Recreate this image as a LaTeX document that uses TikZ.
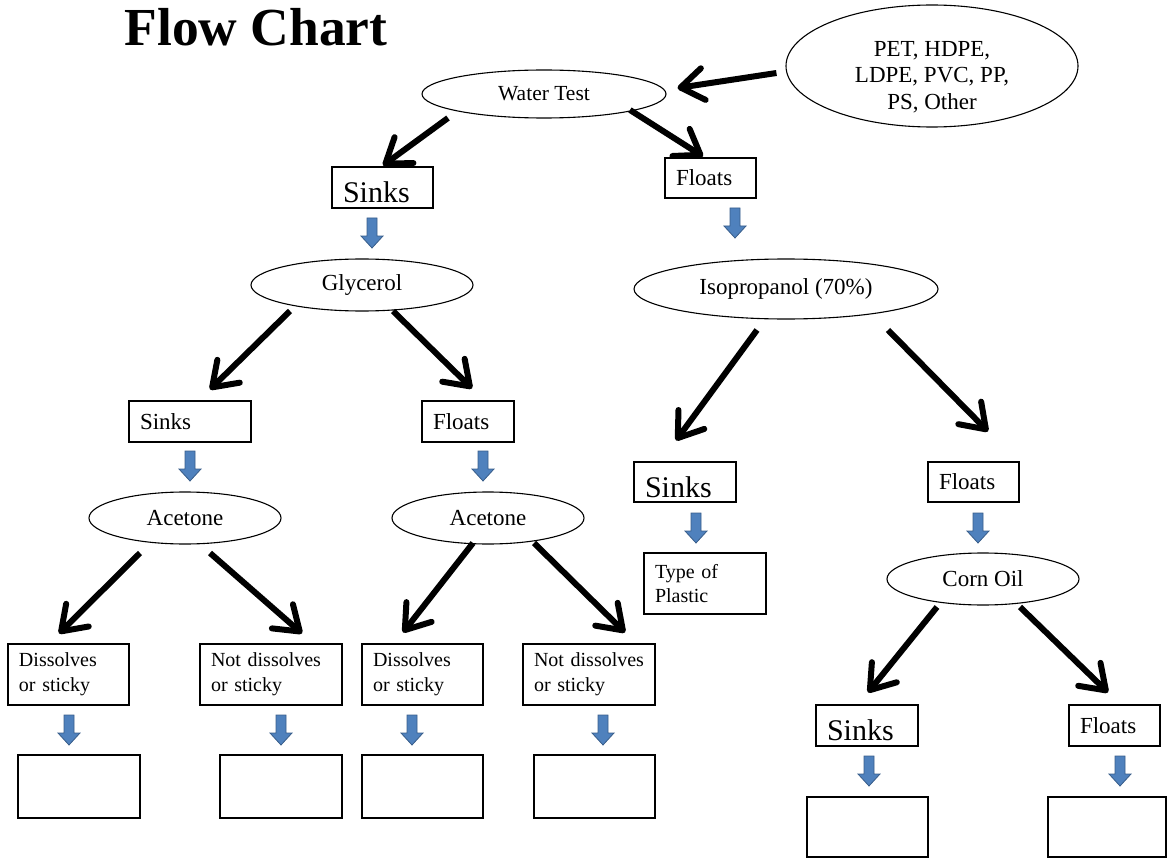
\documentclass[tikz,border=0pt]{standalone}
\usepackage{fontspec}
\setmainfont{Liberation Serif}
\usetikzlibrary{shapes.geometric,arrows.meta,calc}
\definecolor{arrowblue}{HTML}{4F81BD}
\definecolor{arrowedge}{HTML}{385D8A}
\begin{document}
\begin{tikzpicture}[x=1pt,y=-1pt,
  ell/.style={draw, ellipse, line width=1.1pt, inner sep=0pt, font=\fontsize{23}{26}\selectfont, align=center},
  box/.style={draw, rectangle, line width=1.1pt, inner xsep=11pt, inner ysep=0pt, align=left},
  emptybox/.style={draw, rectangle, line width=1.1pt, inner sep=0pt},
  bigarrow/.style={line width=6pt, line cap=butt, -{Straight Barb[length=23pt,width=32pt,round]}},
  fmid/.style={font=\fontsize{23}{26}\selectfont},
  fbig/.style={font=\fontsize{30}{32}\selectfont, text height=30pt, text depth=0pt},
  fsmall/.style={font=\fontsize{20}{25}\selectfont},
  barrow/.pic={\draw[fill=arrowblue, draw=arrowedge, line width=0.8pt] (-5,-15) -- (5,-15) -- (5,3) -- (11,3) -- (0,15) -- (-11,3) -- (-5,3) -- cycle;}
]
\useasboundingbox (0,0) rectangle (1167,861);

% title
\node[anchor=base, font=\fontsize{53.5}{60}\selectfont\bfseries] (title) at (256,46) {Flow Chart};

% ellipses
\node[ell, minimum width=292pt, minimum height=122pt] (pet) at (932,66) {};
\node[align=center, inner sep=0pt, font=\fontsize{23}{26.5}\selectfont] (pettext) at (932,77) {PET, HDPE,\\LDPE, PVC, PP,\\PS, Other};
\node[ell, font=\fontsize{21.5}{24}\selectfont, minimum width=244pt, minimum height=48pt] (wt) at (544,94) {Water Test};
\node[ell, minimum width=222pt, minimum height=52pt] (gly) at (362,285) {Glycerol};
\node[ell, minimum width=304pt, minimum height=60pt] (iso) at (786,289) {Isopropanol (70\%)};
\node[ell, minimum width=192pt, minimum height=52pt] (acl) at (185,518) {Acetone};
\node[ell, minimum width=192pt, minimum height=52pt] (acr) at (488,518) {Acetone};
\node[ell, minimum width=192pt, minimum height=52pt] (corn) at (983,579) {Corn Oil};

% boxes
\node[box, fbig, text width=79pt, minimum height=41pt] (sinksA) at (382.5,187.5) {Sinks};
\node[box, fmid, text width=69pt, minimum height=40pt] (floatsA) at (710.5,178) {Floats};
\node[box, fmid, text width=100pt, minimum height=41pt] (sinksB) at (190,421.5) {Sinks};
\node[box, fmid, text width=70pt, minimum height=41pt] (floatsB) at (468,421.5) {Floats};
\node[box, fsmall, text width=99pt, minimum height=61pt] (dis1) at (68.5,674.5) {Dissolves\\or sticky};
\node[box, fsmall, text width=120pt, minimum height=61pt] (ndis1) at (271,674.5) {\mbox{Not dissolves}\\or sticky};
\node[box, fsmall, text width=99pt, minimum height=61pt] (dis2) at (422.5,674.5) {Dissolves\\or sticky};
\node[box, fsmall, text width=110pt, minimum height=61pt] (ndis2) at (589,674.5) {\mbox{Not dissolves}\\or sticky};
\node[emptybox, minimum width=122pt, minimum height=63pt] (e1) at (79,786.5) {};
\node[emptybox, minimum width=122pt, minimum height=63pt] (e2) at (281,786.5) {};
\node[emptybox, minimum width=121pt, minimum height=63pt] (e3) at (422.5,786.5) {};
\node[emptybox, minimum width=121pt, minimum height=63pt] (e4) at (594.5,786.5) {};
\node[box, fbig, text width=80pt, minimum height=40pt] (sinksC) at (685,482) {Sinks};
\node[box, fmid, text width=69pt, minimum height=40pt] (floatsC) at (973.5,482) {Floats};
\node[box, font=\fontsize{20}{24}\selectfont, text width=100pt, minimum height=61pt] (tp) at (705,583.5) {Type of\\Plastic};
\node[box, fbig, text width=80pt, minimum height=41pt] (sinksD) at (867,725.5) {Sinks};
\node[box, fmid, text width=69pt, minimum height=41pt] (floatsD) at (1114.5,725.5) {Floats};
\node[emptybox, minimum width=121pt, minimum height=60pt] (eD1) at (867.5,827) {};
\node[emptybox, minimum width=118pt, minimum height=60pt] (eD2) at (1107,827) {};

% black arrows
\draw[bigarrow] ($(pet.west)+(-9,7)$) -- ($(wt.east)+(11,-6)$);
\draw[bigarrow] ($(wt)+(-96,24)$) -- ($(sinksA.north)+(0.5,-1)$);
\draw[bigarrow] ($(wt)+(86,16)$) -- ($(floatsA.north)+(-7.5,-1)$);
\draw[bigarrow] ($(gly)+(-72,26)$) -- ($(sinksB.north)+(20,-11)$);
\draw[bigarrow] ($(gly)+(31,26)$) -- ($(floatsB.north)+(4,-12)$);
\draw[bigarrow] ($(iso)+(-29,41)$) -- ($(sinksC.north)+(-9,-21)$);
\draw[bigarrow] ($(iso)+(102,41)$) -- ($(floatsC.north)+(14.5,-30)$);
\draw[bigarrow] ($(acl)+(-45,35)$) -- ($(dis1.north)+(-9.5,-10)$);
\draw[bigarrow] ($(acl)+(25,35)$) -- ($(ndis1.north)+(31,-10)$);
\draw[bigarrow] ($(acr)+(-15,25)$) -- ($(dis2.north)+(-19.5,-11)$);
\draw[bigarrow] ($(acr)+(46,25)$) -- ($(ndis2.north)+(36,-11)$);
\draw[bigarrow] ($(corn)+(-46,28)$) -- ($(sinksD.north)+(1,-12)$);
\draw[bigarrow] ($(corn)+(37,28)$) -- ($(floatsD.north)+(-6.5,-12)$);

% blue block arrows
\pic (b1) at (372,233) {barrow};
\pic (b2) at (735,223) {barrow};
\pic (b3) at (190,466) {barrow};
\pic (b4) at (483,466) {barrow};
\pic (b5) at (696,528) {barrow};
\pic (b6) at (978,528) {barrow};
\pic (b7) at (69,730) {barrow};
\pic (b8) at (281,730) {barrow};
\pic (b9) at (412,730) {barrow};
\pic (b10) at (603,730) {barrow};
\pic (b11) at (869,771) {barrow};
\pic (b12) at (1120,771) {barrow};
\end{tikzpicture}
\end{document}
